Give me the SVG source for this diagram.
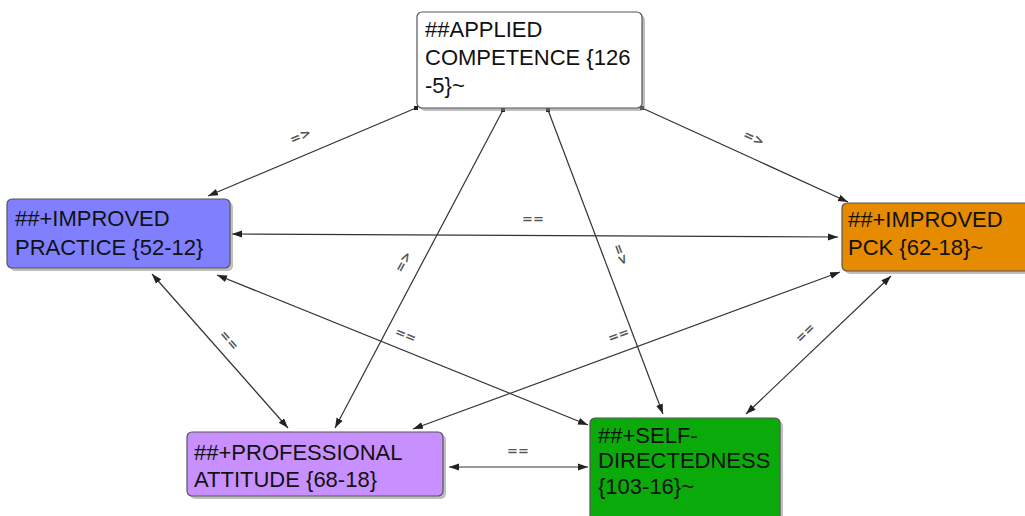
<svg xmlns="http://www.w3.org/2000/svg" width="1025" height="516" viewBox="0 0 1025 516">
<style>
.box{stroke:#555;stroke-width:1.2}
.sh{fill:#888;opacity:0.55}
.t{font-family:"Liberation Sans",Arial,sans-serif;font-size:22px;fill:#111}
.e{stroke:#333;stroke-width:1.2;fill:none}
.l{font-family:"DejaVu Sans",sans-serif;font-size:13px;fill:#555;text-anchor:middle;font-weight:bold}
</style>
<defs>
<marker id="ar" viewBox="0 0 10 10" refX="10" refY="5" markerWidth="10" markerHeight="10" markerUnits="userSpaceOnUse" orient="auto-start-reverse">
<path d="M0,1.5 L10,5 L0,8.5 Z" fill="#222"/>
</marker>
<marker id="dot" viewBox="0 0 4 4" refX="2" refY="2" markerWidth="4" markerHeight="4" markerUnits="userSpaceOnUse">
<rect x="0" y="0" width="4" height="4" fill="#222"/>
</marker>
</defs>
<rect width="1025" height="516" fill="#fff"/>
<g id="edges">
<line class="e" x1="416" y1="108" x2="208" y2="196" marker-start="url(#dot)" marker-end="url(#ar)"/>
<line class="e" x1="642" y1="108" x2="848" y2="202" marker-start="url(#dot)" marker-end="url(#ar)"/>
<line class="e" x1="503" y1="110" x2="335" y2="428" marker-start="url(#dot)" marker-end="url(#ar)"/>
<line class="e" x1="548" y1="110" x2="663" y2="414" marker-start="url(#dot)" marker-end="url(#ar)"/>
<line class="e" x1="232" y1="234" x2="838" y2="237" marker-start="url(#ar)" marker-end="url(#ar)"/>
<line class="e" x1="152" y1="274" x2="288" y2="428" marker-start="url(#ar)" marker-end="url(#ar)"/>
<line class="e" x1="217" y1="275" x2="588" y2="425" marker-start="url(#ar)" marker-end="url(#ar)"/>
<line class="e" x1="840" y1="272" x2="413" y2="429" marker-start="url(#ar)" marker-end="url(#ar)"/>
<line class="e" x1="891" y1="276" x2="746" y2="414" marker-start="url(#ar)" marker-end="url(#ar)"/>
<line class="e" x1="449" y1="467" x2="588" y2="467" marker-start="url(#ar)" marker-end="url(#ar)"/>
<text class="l" transform="translate(302,140) rotate(-23)">=&gt;</text>
<text class="l" transform="translate(752,142) rotate(25)">=&gt;</text>
<text class="l" transform="translate(407,264) rotate(-62)">=&gt;</text>
<text class="l" transform="translate(617,256) rotate(69)">=&gt;</text>
<text class="l" transform="translate(533,223)">==</text>
<text class="l" transform="translate(226,343) rotate(49)">==</text>
<text class="l" transform="translate(404,339) rotate(22)">==</text>
<text class="l" transform="translate(620,339) rotate(-20)">==</text>
<text class="l" transform="translate(808,336) rotate(-44)">==</text>
<text class="l" transform="translate(518,455)">==</text>
</g>
<g id="applied-competence">
<rect class="sh" x="420" y="15" width="225" height="96" rx="5"/>
<rect class="box" x="417" y="12" width="225" height="96" rx="5" fill="#fff"/>
<text class="t" x="425" y="37">##APPLIED</text>
<text class="t" x="425" y="65">COMPETENCE {126</text>
<text class="t" x="425" y="93">-5}~</text>
</g>
<g id="improved-practice">
<rect class="sh" x="10" y="202" width="223" height="69" rx="5"/>
<rect class="box" x="7" y="199" width="223" height="69" rx="5" fill="#8080ff"/>
<text class="t" x="15" y="226">##+IMPROVED</text>
<text class="t" x="15" y="255">PRACTICE {52-12}</text>
</g>
<g id="improved-pck">
<rect class="sh" x="845" y="206" width="190" height="68" rx="5"/>
<rect class="box" x="842" y="203" width="190" height="68" rx="5" fill="#e68a00"/>
<text class="t" x="848" y="227">##+IMPROVED</text>
<text class="t" x="848" y="255">PCK {62-18}~</text>
</g>
<g id="professional-attitude">
<rect class="sh" x="190" y="435" width="256" height="64" rx="5"/>
<rect class="box" x="187" y="432" width="256" height="64" rx="5" fill="#c890ff"/>
<text class="t" x="194" y="460">##+PROFESSIONAL</text>
<text class="t" x="194" y="487">ATTITUDE {68-18}</text>
</g>
<g id="self-directedness">
<rect class="sh" x="593" y="421" width="190" height="110" rx="5"/>
<rect class="box" x="590" y="418" width="190" height="110" rx="5" fill="#0aaa0a"/>
<text class="t" x="598" y="443">##+SELF-</text>
<text class="t" x="598" y="468">DIRECTEDNESS</text>
<text class="t" x="598" y="494">{103-16}~</text>
</g>
</svg>
